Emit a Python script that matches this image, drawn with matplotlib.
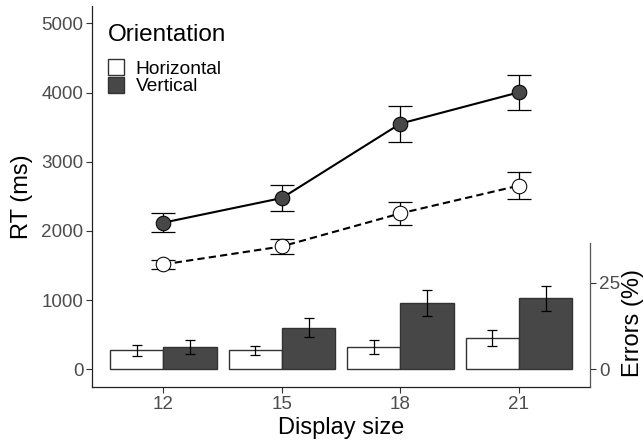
import numpy as np
import matplotlib.pyplot as plt
from matplotlib.patches import Patch

plt.rcParams['font.family'] = ['Liberation Sans', 'DejaVu Sans']

# data
display_sizes = ["12", "15", "18", "21"]
rt_horizontal = [1517, 1777, 2254, 2655]
rt_horizontal_se = [70, 110, 165, 193]
rt_vertical = [2120, 2476, 3551, 4003]
rt_vertical_se = [140, 193, 260, 253]
err_horizontal = [5.5, 5.5, 6.5, 9.0]
err_horizontal_se = [1.5, 1.3, 2.0, 2.3]
err_vertical = [6.5, 12.1, 19.1, 20.5]
err_vertical_se = [2.0, 2.7, 3.7, 3.7]

DARK = '#474747'
TICK_COL = '#4D4D4D'

fig = plt.figure(figsize=(6.44, 4.4), dpi=100)
ax = fig.add_axes([92.3 / 644, 53.3 / 440, 497.7 / 644, 380.7 / 440])
ax2 = ax.twinx()

x = np.arange(1, len(display_sizes) + 1)
bw = 0.45

# error-rate bars on the secondary axis
ax2.bar(x - bw / 2, err_horizontal, bw, color='white', edgecolor='#333333', linewidth=1)
ax2.bar(x + bw / 2, err_vertical, bw, color=DARK, edgecolor='#333333', linewidth=1)
ax2.errorbar(x - bw / 2, err_horizontal, yerr=err_horizontal_se, fmt='none',
             ecolor='black', elinewidth=0.9, capsize=3.8, capthick=0.9)
ax2.errorbar(x + bw / 2, err_vertical, yerr=err_vertical_se, fmt='none',
             ecolor='black', elinewidth=0.9, capsize=3.8, capthick=0.9)

# RT lines
ax.errorbar(x, rt_horizontal, yerr=rt_horizontal_se, fmt='none', ecolor='black',
            elinewidth=0.9, capsize=8.5, capthick=0.9, zorder=2)
ax.errorbar(x, rt_vertical, yerr=rt_vertical_se, fmt='none', ecolor='black',
            elinewidth=0.9, capsize=8.5, capthick=0.9, zorder=2)
ax.plot(x, rt_horizontal, color='black', linewidth=1.5, linestyle=(0, (3.5, 2)),
        marker='o', markersize=10.5, markerfacecolor='white',
        markeredgecolor='black', markeredgewidth=0.75, zorder=3)
ax.plot(x, rt_vertical, color='black', linewidth=1.5, linestyle='-',
        marker='o', markersize=10.5, markerfacecolor=DARK,
        markeredgecolor='black', markeredgewidth=0.75, zorder=3)

ax.set_xlim(0.4, 4.6)
ax.set_ylim(-250, 5250)
ax2.set_ylim(-5, 105)

ax.set_xticks(x)
ax.set_xticklabels(display_sizes)
ax.set_yticks(np.arange(0, 5001, 1000))
ax2.set_yticks([0, 25])

for a in (ax, ax2):
    a.tick_params(length=4, width=0.8, color='#333333', labelcolor=TICK_COL,
                  labelsize=13.6, pad=2.5)
    for s in a.spines.values():
        s.set_visible(False)

ax.spines['left'].set_visible(True)
ax.spines['bottom'].set_visible(True)
ax.spines['left'].set_linewidth(0.9)
ax.spines['bottom'].set_linewidth(0.9)
ax.spines['left'].set_color('#222222')
ax.spines['bottom'].set_color('#222222')
ax2.spines['right'].set_visible(True)
ax2.spines['right'].set_color('#555555')
ax2.spines['right'].set_linewidth(0.9)
ax2.spines['right'].set_bounds(-5, 36.4)

ax.set_xlabel('Display size', fontsize=17, labelpad=3)
ax.set_ylabel('RT (ms)', fontsize=17, labelpad=6)
fig.text(633 / 644, (440 - 323) / 440, 'Errors (%)', rotation=90,
         ha='center', va='center', fontsize=17)

# legend: title as its own text, keys stacked without gaps
fig.text(107.5 / 644, (440 - 41) / 440, 'Orientation', fontsize=17.5,
         ha='left', va='baseline')
handles = [Patch(facecolor='white', edgecolor='#333333', linewidth=1),
           Patch(facecolor=DARK, edgecolor='#333333', linewidth=1)]
leg = ax.legend(handles, ['Horizontal', 'Vertical'],
                loc='upper left', bbox_to_anchor=(107.5 / 644, 1 - 59.5 / 440),
                bbox_transform=fig.transFigure, frameon=False, fontsize=13.8,
                handlelength=0.88, handleheight=0.88,
                handletextpad=0.6, labelspacing=-0.05, borderpad=0,
                borderaxespad=0)

fig.savefig('out.png', dpi=100)
